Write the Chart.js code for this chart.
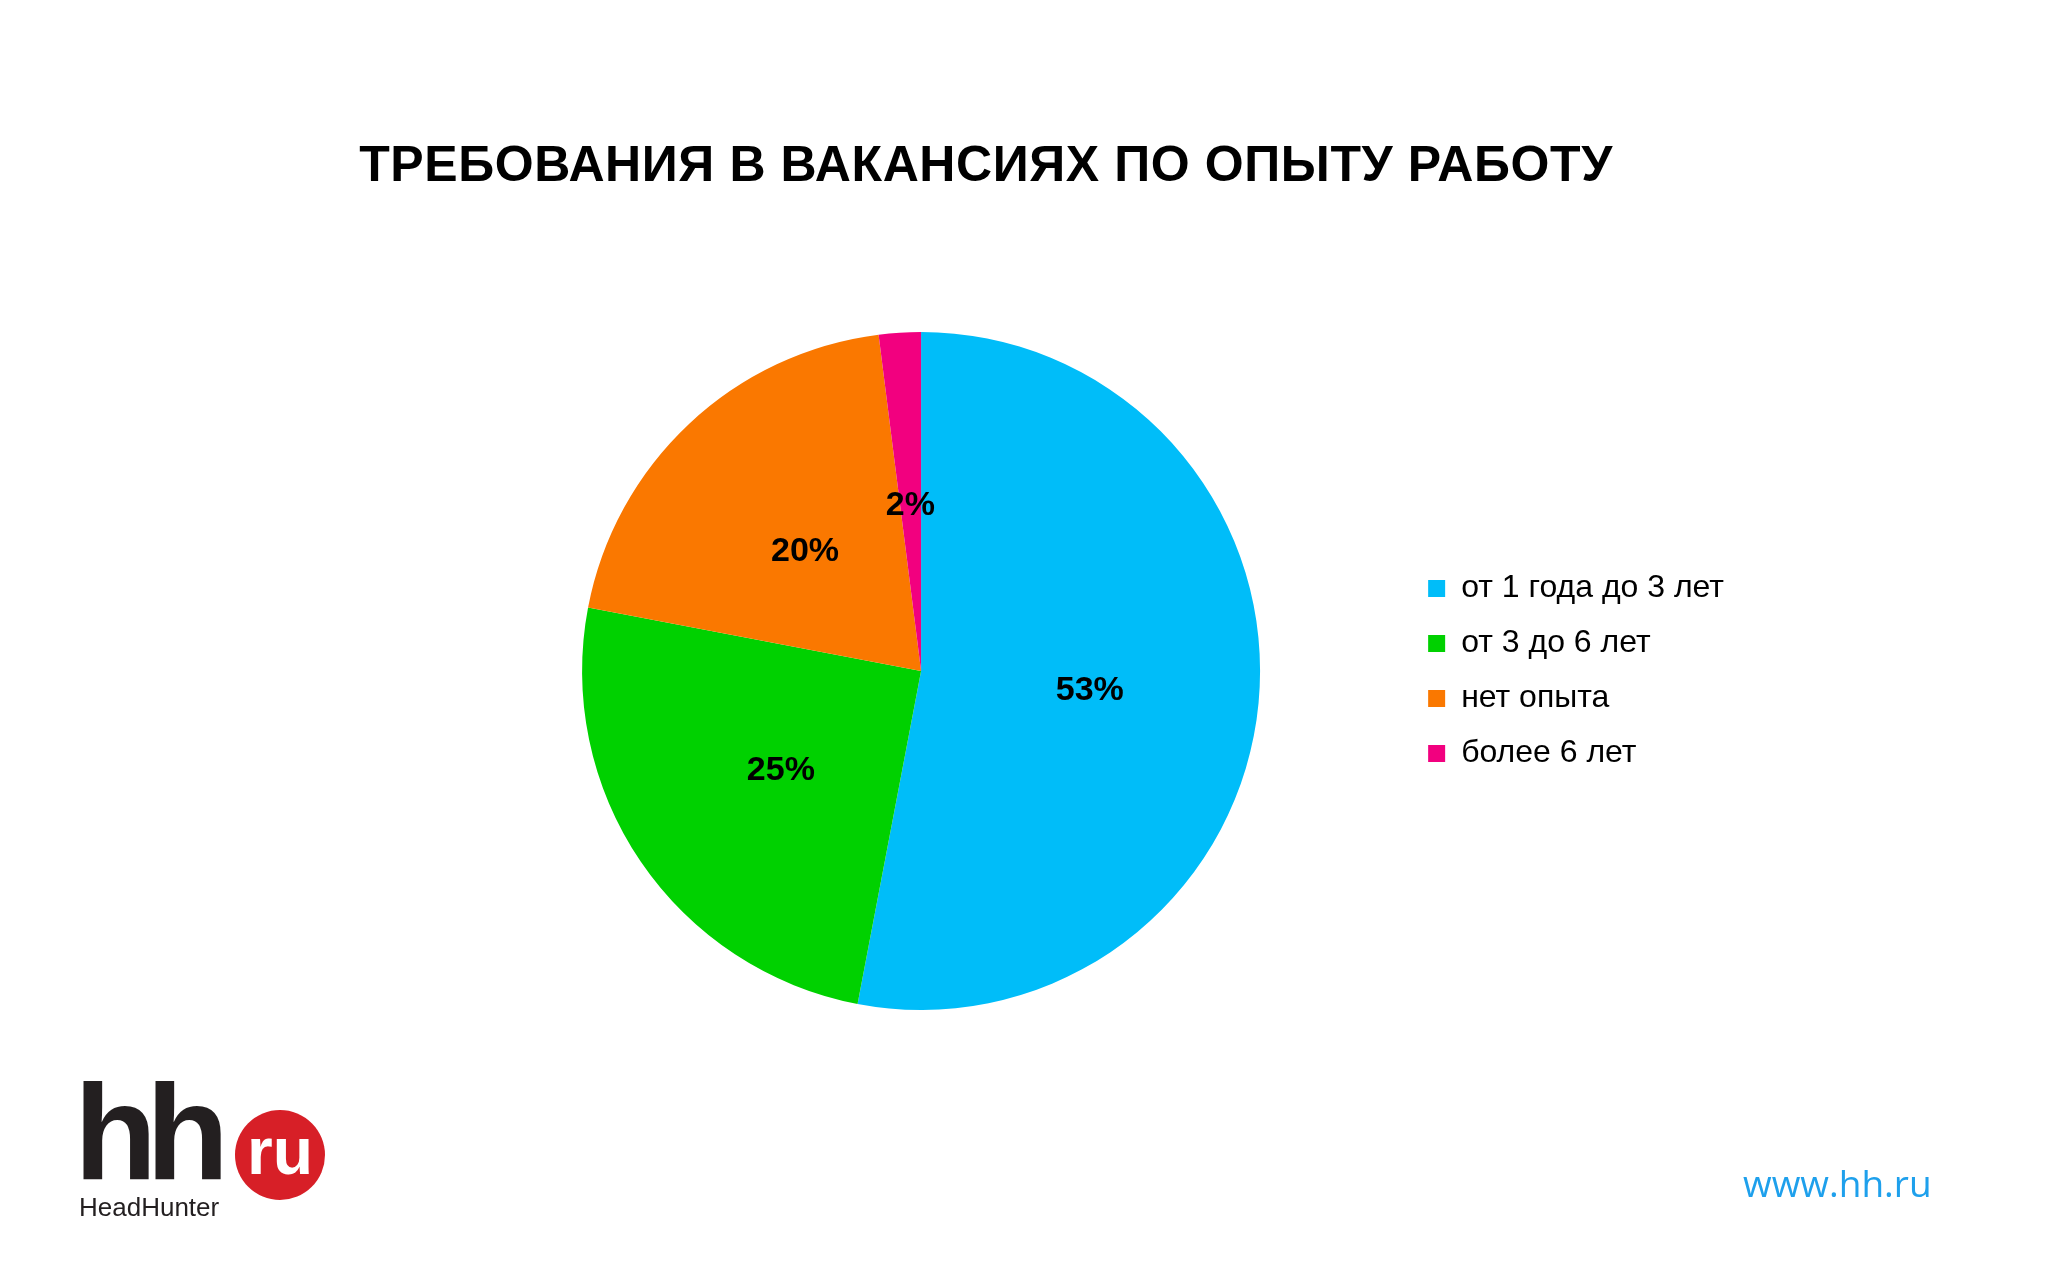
<!DOCTYPE html>
<html>
<head>
<meta charset="utf-8">
<script src="https://cdn.jsdelivr.net/npm/chart.js@4"></script>
<style>
  html, body { margin: 0; padding: 0; background: #ffffff; }
  body { width: 2048px; height: 1280px; position: relative; overflow: hidden; font-family: "Liberation Sans", Arial, sans-serif; }
  #title { position: absolute; top: 135px; left: 0; width: 1972px; text-align: center; font-weight: bold; font-size: 50px; letter-spacing: 0.6px; color: #000; }
  #chartBox { position: absolute; left: 0; top: 0; width: 2048px; height: 1280px; }
  .logo-hh { position: absolute; left: 74px; top: 1064px; font-size: 136px; font-weight: bold; color: #231f20; letter-spacing: -11px; line-height: 1; }
  .logo-ru { position: absolute; left: 235px; top: 1110px; width: 90px; height: 90px; border-radius: 50%; background: #d71f27; color: #fff; font-weight: bold; font-size: 66px; text-align: center; line-height: 82px; }
  .logo-name { position: absolute; left: 79px; top: 1192px; font-size: 26px; color: #231f20; }
  .site { position: absolute; left: 1743px; top: 1157px; font-family: "Open Sans", sans-serif; font-size: 37px; color: #1ea0ec; }
</style>
</head>
<body>
<div id="title">ТРЕБОВАНИЯ В ВАКАНСИЯХ ПО ОПЫТУ РАБОТУ</div>
<div id="chartBox"><canvas id="pieChart" width="2048" height="1280"></canvas></div>
<div class="logo-hh">hh</div>
<div class="logo-ru">ru</div>
<div class="logo-name">HeadHunter</div>
<div class="site">www.hh.ru</div>
<script>
// данные диаграммы
const categories = [
    "от 1 года до 3 лет",
    "от 3 до 6 лет",
    "нет опыта",
    "более 6 лет"
];

const shares = [
    53,
    25,
    20,
    2
];

const sliceColors = [
    "#00bdf9",
    "#00d100",
    "#fa7800",
    "#f2007f"
];

Chart.defaults.font.family = "'Liberation Sans', Arial, sans-serif";

// подписи процентов в центре сектора
const percentLabels = {
    id: "percentLabels",
    afterDatasetsDraw(chart) {
        const ctx = chart.ctx;
        const meta = chart.getDatasetMeta(0);
        ctx.save();
        ctx.font = "bold 34px 'Liberation Sans', Arial, sans-serif";
        ctx.fillStyle = "#000";
        ctx.textAlign = "center";
        ctx.textBaseline = "middle";
        meta.data.forEach((arc, i) => {
            const p = arc.tooltipPosition();
            ctx.fillText(shares[i] + "%", p.x, p.y + 4);
        });
        ctx.restore();
    }
};

const pieCtx =
document.getElementById(
"pieChart"
);

new Chart(pieCtx, {

    type: "pie",

    data: {
        labels: categories,
        datasets: [
            {
                data: shares,
                backgroundColor: sliceColors,
                borderWidth: 0
            }
        ]
    },

    options: {
        responsive: false,
        animation: false,
        devicePixelRatio: 1,
        layout: {
            padding: { left: 437, right: 314, top: 332, bottom: 270 }
        },
        plugins: {
            tooltip: { enabled: false },
            legend: {
                position: "right",
                labels: {
                    boxWidth: 17,
                    boxHeight: 17,
                    padding: 23,
                    color: "#000",
                    font: { size: 32 }
                }
            }
        }
    },

    plugins: [percentLabels]

});
</script>
</body>
</html>
